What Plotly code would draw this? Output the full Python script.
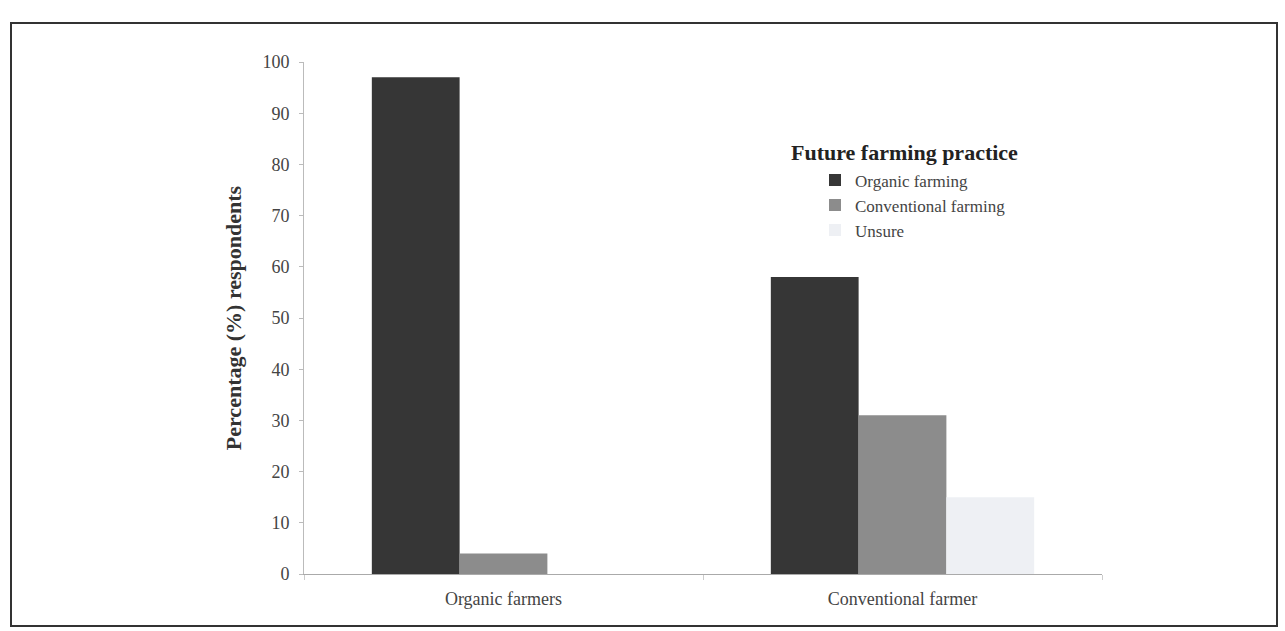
import plotly.graph_objects as go

categories = ["Organic farmers", "Conventional farmer"]
organic_farming = [97, 58]
conventional_farming = [4, 31]
unsure = [0, 15]
series_names = ["Organic farming", "Conventional farming", "Unsure"]
colors = ["#363636", "#8c8c8c", "#eef0f4"]
y_ticks = [0, 10, 20, 30, 40, 50, 60, 70, 80, 90, 100]

fig = go.Figure()
for name, vals, col in zip(series_names, [organic_farming, conventional_farming, unsure], colors):
    fig.add_trace(go.Bar(name=name, x=categories, y=vals, marker=dict(color=col, line=dict(width=0))))

serif = "Liberation Serif, Times New Roman, serif"
fig.update_layout(
    width=1285, height=631,
    margin=dict(l=304, r=183, t=62, b=57),
    paper_bgcolor="white", plot_bgcolor="white",
    barmode="group", bargap=0.34, bargroupgap=0,
    font=dict(family=serif, size=18, color="#444444"),
    showlegend=True,
    legend=dict(x=(815 - 304) / 798, y=0.804, xanchor="left", yanchor="top",
                font=dict(family=serif, size=17, color="#444444"),
                itemwidth=30, tracegroupgap=0, bgcolor="rgba(0,0,0,0)"),
    xaxis=dict(showline=True, linecolor="#aaaaaa", linewidth=1, ticks="outside",
               tickson="boundaries", ticklen=5, tickcolor="#cccccc",
               ticklabelstandoff=8,
               tickfont=dict(family=serif, size=18, color="#444444")),
    yaxis=dict(range=[0, 100], tickvals=y_ticks, showgrid=False, zeroline=False,
               showline=True, linecolor="#bbbbbb", linewidth=1, ticks="outside",
               ticklen=4, tickcolor="#bbbbbb", ticklabelstandoff=6,
               tickfont=dict(family=serif, size=18, color="#444444"),
               title=dict(text="<b>Percentage (%) respondents</b>",
                          font=dict(family=serif, size=22, color="#333333"), standoff=14)),
)
fig.add_annotation(text="<b>Future farming practice</b>", xref="paper", yref="paper",
                   x=(789 - 304) / 798, y=(574 - 152) / 512, xanchor="left", yanchor="middle",
                   showarrow=False, font=dict(family=serif, size=22, color="#222222"))
fig.add_shape(type="rect", xref="paper", yref="paper",
              x0=(11 - 304) / 798, x1=(1277 - 304) / 798,
              y0=(574 - 626) / 512, y1=(574 - 23) / 512,
              line=dict(color="#333333", width=2))
fig.write_html("out.html")
